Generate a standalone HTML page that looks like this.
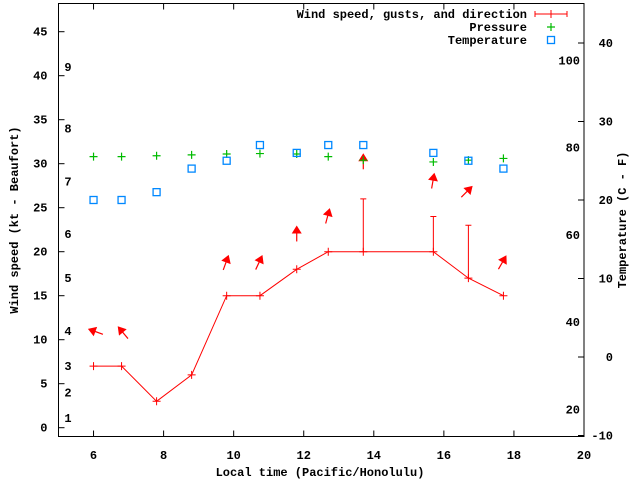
<!DOCTYPE html>
<html><head><meta charset="utf-8"><style>
html,body{margin:0;padding:0;background:#fff}
svg text{font-family:"Liberation Mono",monospace;font-weight:bold;font-size:12px;fill:#000}
</style></head><body>
<svg id="c" width="640" height="480" xmlns="http://www.w3.org/2000/svg"></svg>
<script>
const times=[6.0,6.8,7.8,8.8,9.8,10.75,11.8,12.7,13.7,15.7,16.7,17.7];
const windKt=[7,7,3,6,15,15,18,20,20,20,17,15];
const gustKt=[null,null,null,null,null,null,null,null,26,24,23,null];
const pressure=[30.8,30.8,30.9,31.0,31.1,31.15,31.1,30.8,30.4,30.2,30.4,30.6];
const tempC=[20,20,21,24,25,27,26,27,27,26,25,24];
const arrowKt=[11,11,null,null,19,19,22.3,24.3,30.5,28.3,27,19];
const arrowAngle=[-70,-40,null,null,20,25,0,15,0,10,45,30];
const xTicks=[6,8,10,12,14,16,18,20];
const yTicks=[0,5,10,15,20,25,30,35,40,45];
const cTicks=[-10,0,10,20,30,40];
const fTicks=[20,40,60,80,100];
const bftLabels=[1,2,3,4,5,6,7,8,9];
const bftKt=[1.1,4,7,11,17,22,28,34,41];

const svg=document.getElementById('c');const NS='http://www.w3.org/2000/svg';
const L=58.5,R=584,T=3.5,B=436.5;
const X=t=>L+(t-5)*(R-L)/15;
const Y=v=>427.7-v*8.8;
const YC=c=>357-c*7.85;
const YF=f=>YC((f-32)*5/9);
function el(tag,a,name,parent){const e=document.createElementNS(NS,tag);for(const k in a)e.setAttribute(k,a[k]);


(parent||svg).appendChild(e);return e;}
function txt(x,y,s,anchor,name,extra){const e=el('text',Object.assign({x:x,y:y,'text-anchor':anchor||'middle'},extra||{}),name);e.textContent=s;return e;}

el('rect',{x:L,y:T,width:R-L,height:B-T,fill:'none',stroke:'#000','stroke-width':1},'plot-border');
xTicks.forEach(t=>{el('line',{x1:X(t),y1:B,x2:X(t),y2:B-6,stroke:'#000'},'x-tick');
el('line',{x1:X(t),y1:T,x2:X(t),y2:T+6,stroke:'#000'},'x-tick-top');
txt(X(t),459,String(t),'middle','x-tick-label');});
yTicks.forEach(v=>{el('line',{x1:L,y1:Y(v),x2:L+6,y2:Y(v),stroke:'#000'},'y-tick');
txt(L-11,Y(v)+4,String(v),'end','y-tick-label');});
cTicks.forEach(c=>{el('line',{x1:R,y1:YC(c),x2:R-6,y2:YC(c),stroke:'#000'},'c-tick');
txt(613,YC(c)+4,String(c),'end','celsius-tick-label');});
fTicks.forEach(f=>{txt(580,YF(f)+4,String(f),'end','fahrenheit-tick-label');});
bftLabels.forEach((b,i)=>txt(68,Y(bftKt[i])+4,String(b),'middle','beaufort-label'));
txt(320,476,'Local time (Pacific/Honolulu)','middle','x-axis-title');
txt(18,220,'Wind speed (kt - Beaufort)','middle','y-axis-title',{transform:'rotate(-90 18 220)'});
txt(626,220,'Temperature (C - F)','middle','y2-axis-title',{transform:'rotate(-90 626 220)'});

// wind line
let d='';times.forEach((t,i)=>{d+=(i?'L':'M')+X(t)+' '+Y(windKt[i]);});
el('path',{d:d,fill:'none',stroke:'#f00','stroke-width':1},'wind-speed-line');
times.forEach((t,i)=>{const x=X(t),y=Y(windKt[i]);
el('path',{d:`M${x-4} ${y}H${x+4}M${x} ${y-4}V${y+4}`,stroke:'#f00'},'wind-point');
if(gustKt[i]!=null){const g=Y(gustKt[i]);
el('path',{d:`M${x} ${y}V${g}M${x-3} ${g}H${x+3}`,stroke:'#f00'},'gust-bar');}
if(arrowKt[i]!=null){const ay=Y(arrowKt[i]);
const g=el('g',{transform:`translate(${x} ${ay}) rotate(${arrowAngle[i]})`},'direction-arrow');
el('line',{x1:0,y1:-3,x2:0,y2:10,stroke:'#f00','stroke-width':1.2},'arrow-shaft',g);
el('polygon',{points:'0,-6 -5,2 5,2',fill:'#f00'},'arrow-head',g);}
});
times.forEach((t,i)=>{const x=X(t),y=Y(pressure[i]);
el('path',{d:`M${x-4} ${y}H${x+4}M${x} ${y-4}V${y+4}`,stroke:'#0b0','stroke-width':1.2},'pressure-point');});
times.forEach((t,i)=>{const x=X(t),y=YC(tempC[i]);
el('rect',{x:x-3.5,y:y-3.5,width:7,height:7,fill:'none',stroke:'#08f','stroke-width':1.3},'temperature-point');});

// legend
txt(527,18,'Wind speed, gusts, and direction','end','legend-wind-label');
el('path',{d:'M535 14H567M535 11V17M567 11V17M551 10V18',stroke:'#f00'},'legend-wind-symbol');
txt(527,31,'Pressure','end','legend-pressure-label');
el('path',{d:'M547 27H555M551 23V31',stroke:'#0b0','stroke-width':1.2},'legend-pressure-symbol');
txt(527,44,'Temperature','end','legend-temperature-label');
el('rect',{x:547.5,y:36.5,width:7,height:7,fill:'none',stroke:'#08f','stroke-width':1.3},'legend-temperature-symbol');
</script>
</body></html>
